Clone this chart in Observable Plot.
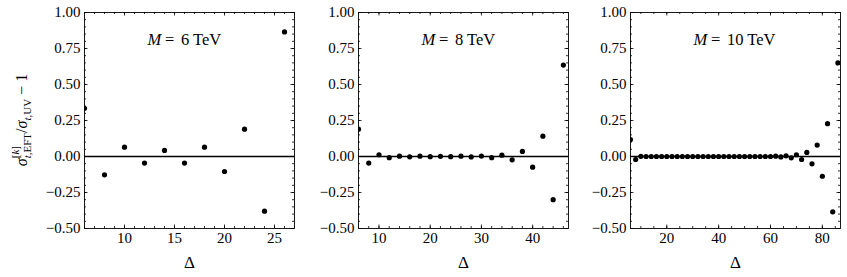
<!DOCTYPE html>
<html>
<head>
<meta charset="utf-8">
<script src="https://cdn.jsdelivr.net/npm/d3@7"></script>
<script src="https://cdn.jsdelivr.net/npm/@observablehq/plot@0.6"></script>
<style>
  html, body { margin: 0; padding: 0; background: #fff; }
  #wrap { position: relative; width: 847px; height: 277px; overflow: hidden; background: #fff; font-family: "Liberation Serif", serif; }
  #wrap > svg { position: absolute; top: 0; }
  #wrap text { font-family: "Liberation Serif", serif; }
</style>
</head>
<body>
<div id="wrap"></div>
<script>
// ---- data ----
const delta6 = [6, 8, 10, 12, 14, 16, 18, 20, 22, 24, 26];
const ratio6 = [0.335, -0.127, 0.065, -0.046, 0.042, -0.046, 0.065, -0.104, 0.19, -0.38, 0.865];

const delta8 = [6, 8, 10, 12, 14, 16, 18, 20, 22, 24, 26, 28, 30, 32, 34, 36, 38, 40, 42, 44, 46];
const ratio8 = [0.19, -0.046, 0.012, -0.008, 0.002, -0.002, 0.002, -0.001, 0.001, -0.001, 0.002,
                -0.003, 0.003, -0.008, 0.009, -0.023, 0.035, -0.074, 0.141, -0.30, 0.635];

const delta10 = [6, 8, 10, 12, 14, 16, 18, 20, 22, 24, 26, 28, 30, 32, 34, 36, 38, 40, 42, 44, 46,
                 48, 50, 52, 54, 56, 58, 60, 62, 64, 66, 68, 70, 72, 74, 76, 78, 80, 82, 84, 86];
const ratio10 = [0.118, -0.021, 0.001, 0, 0, 0, 0, 0, 0, 0, 0, 0, 0, 0, 0, 0, 0, 0, 0, 0, 0,
                 0, 0, 0, 0, 0, 0, 0, 0.002, -0.003, 0.005, -0.009, 0.012, -0.021, 0.028, -0.051,
                 0.079, -0.137, 0.228, -0.384, 0.65];

const yMajor = [-0.5, -0.25, 0, 0.25, 0.5, 0.75, 1.0];
const yMinor = d3.range(-0.5, 1.0001, 0.05).map(v => Math.round(v * 100) / 100);

const xMajor6 = [10, 15, 20, 25];
const xMinor6 = d3.range(6, 28, 1);
const xMajor8 = [10, 20, 30, 40];
const xMinor8 = d3.range(6, 48, 2);
const xMajor10 = [20, 40, 60, 80];
const xMinor10 = d3.range(10, 90, 5);

const massValues = ["6 TeV", "8 TeV", "10 TeV"];

// ---- layout ----
const FONT = '"Liberation Serif", serif';
const H = 277, MT = 12, MB = 49;
const plotH = H - MT - MB;
const plotW = 210;

function panel(cfg) {
  const data = cfg.deltas.map((d, i) => ({delta: d, r: cfg.values[i]}));
  const major = 3.5, minor = 2;
  const tickStyle = {stroke: "black", strokeWidth: 0.8};
  return Plot.plot({
    width: cfg.marginLeft + plotW + cfg.marginRight,
    height: H,
    marginLeft: cfg.marginLeft,
    marginRight: cfg.marginRight,
    marginTop: MT,
    marginBottom: MB,
    x: {domain: cfg.xDomain},
    y: {domain: [-0.5, 1.0]},
    style: {fontFamily: FONT, fontSize: "15px", color: "black", background: "white", overflow: "visible"},
    marks: [
      Plot.ruleY([0], {stroke: "black", strokeWidth: 1.3}),
      Plot.dot(data, {x: "delta", y: "r", r: 2.6, fill: "black", stroke: "none", clip: true}),
      Plot.tickX(cfg.xMajor, {x: d => d, insetTop: plotH - major, ...tickStyle}),
      Plot.tickX(cfg.xMajor, {x: d => d, insetBottom: plotH - major, ...tickStyle}),
      Plot.tickX(cfg.xMinor, {x: d => d, insetTop: plotH - minor, ...tickStyle}),
      Plot.tickX(cfg.xMinor, {x: d => d, insetBottom: plotH - minor, ...tickStyle}),
      Plot.tickY(yMajor, {y: d => d, insetRight: plotW - major, ...tickStyle}),
      Plot.tickY(yMajor, {y: d => d, insetLeft: plotW - major, ...tickStyle}),
      Plot.tickY(yMinor, {y: d => d, insetRight: plotW - minor, ...tickStyle}),
      Plot.tickY(yMinor, {y: d => d, insetLeft: plotW - minor, ...tickStyle}),
      Plot.frame({stroke: "black", strokeWidth: 0.9}),
      Plot.axisX({ticks: cfg.xMajor, tickSize: 0, tickPadding: 4, label: null, tickFormat: d => String(d), fontSize: 15}),
      Plot.axisY({ticks: yMajor, tickSize: 0, tickPadding: 4, label: null, tickFormat: d3.format(".2f"), fontSize: 15}),
      Plot.text(["Δ"], {frameAnchor: "bottom", dy: 34, fontSize: 17, lineAnchor: "middle"}),
      Plot.text(["M"], {frameAnchor: "top-left", dx: 63, dy: 21, textAnchor: "start", fontStyle: "italic", fontSize: 16.5}),
      Plot.text(["="], {frameAnchor: "top-left", dx: 80.5, dy: 21, textAnchor: "start", fontSize: 16.5}),
      Plot.text([cfg.mass], {frameAnchor: "top-left", dx: 96.5, dy: 21, textAnchor: "start", fontSize: 16.5})
    ]
  });
}

const wrap = document.getElementById("wrap");
const p1 = panel({marginLeft: 84, marginRight: 6, xDomain: [6, 27], xMajor: xMajor6, xMinor: xMinor6,
                  deltas: delta6, values: ratio6, mass: massValues[0]});
const p2 = panel({marginLeft: 58, marginRight: 6, xDomain: [6, 47], xMajor: xMajor8, xMinor: xMinor8,
                  deltas: delta8, values: ratio8, mass: massValues[1]});
const p3 = panel({marginLeft: 56, marginRight: 7, xDomain: [6, 87], xMajor: xMajor10, xMinor: xMinor10,
                  deltas: delta10, values: ratio10, mass: massValues[2]});
p1.style.left = "0px";
p2.style.left = "300px";
p3.style.left = "574px";
wrap.appendChild(p1);
wrap.appendChild(p2);
wrap.appendChild(p3);

// ---- y-axis title with sub/superscripts ----
const lab = d3.select(p1).append("text")
  .attr("transform", `translate(27,${MT + plotH / 2}) rotate(-90)`)
  .attr("text-anchor", "middle")
  .attr("fill", "black")
  .style("font-family", FONT)
  .style("font-size", "16px");
const SUB = "11px";
lab.append("tspan").text("σ").style("font-style", "italic");
const s1a = lab.append("tspan").text("t").style("font-style", "italic").style("font-size", SUB).attr("dy", 4);
const s1b = lab.append("tspan").text(",EFT").style("font-size", SUB);
const k1 = lab.append("tspan").text("[").style("font-size", SUB);
const k2 = lab.append("tspan").text("k").style("font-style", "italic").style("font-size", SUB);
const k3 = lab.append("tspan").text("]").style("font-size", SUB);
const slash = lab.append("tspan").text("/");
lab.append("tspan").text("σ").style("font-style", "italic");
lab.append("tspan").text("t").style("font-style", "italic").style("font-size", SUB).attr("dy", 4);
lab.append("tspan").text(",UV").style("font-size", SUB);
lab.append("tspan").text(" − 1").attr("dy", -4);
const subW = s1a.node().getComputedTextLength() + s1b.node().getComputedTextLength();
const supW = k1.node().getComputedTextLength() + k2.node().getComputedTextLength() + k3.node().getComputedTextLength();
k1.attr("dx", -subW).attr("dy", -12);
slash.attr("dx", Math.max(0, subW - supW)).attr("dy", 8);
</script>
</body>
</html>
